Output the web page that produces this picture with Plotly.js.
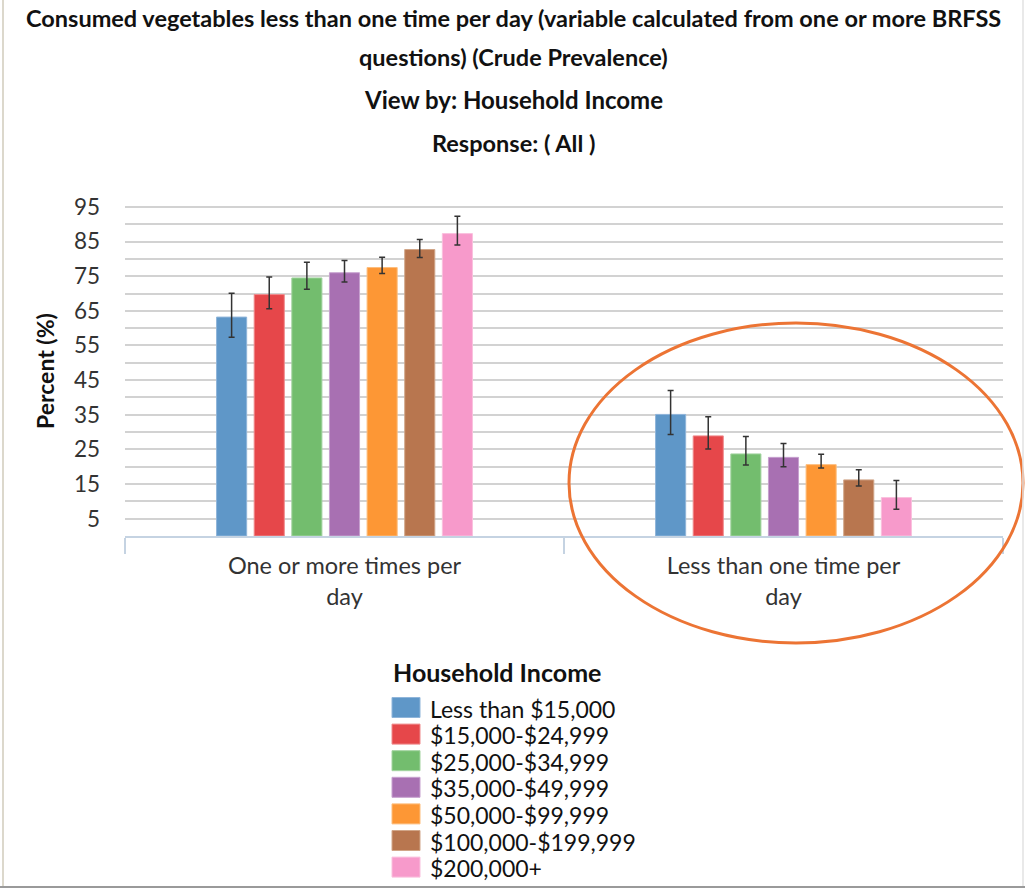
<!DOCTYPE html>
<html>
<head>
<meta charset="utf-8">
<script src="https://cdn.plot.ly/plotly-3.0.1.min.js"></script>
<style>
  html, body { margin: 0; padding: 0; background: #ffffff; }
  #chart { width: 1025px; height: 890px; }
</style>
</head>
<body>
<div id="chart"></div>
<script>
// ---------- data ----------
const categories = ["One or more times per day", "Less than one time per day"];
const categoryTickLabels = ["One or more times per<br>day", "Less than one time per<br>day"];
const incomeGroups = ["Less than $15,000", "$15,000-$24,999", "$25,000-$34,999", "$35,000-$49,999",
                      "$50,000-$99,999", "$100,000-$199,999", "$200,000+"];
// crude prevalence (%) per income group
const oneOrMoreValue  = [63.2, 69.7, 74.5, 76.0, 77.5, 82.7, 87.3];
const oneOrMoreLow    = [57.4, 65.6, 71.2, 73.3, 75.8, 80.4, 84.0];
const oneOrMoreHigh   = [70.1, 74.8, 79.0, 79.5, 80.5, 85.6, 92.3];
const lessThanOneValue = [35.1, 28.9, 23.7, 22.7, 20.6, 16.2, 11.1];
const lessThanOneLow   = [29.3, 25.1, 20.5, 20.0, 19.6, 14.4, 7.7];
const lessThanOneHigh  = [42.0, 34.4, 28.7, 26.7, 23.6, 19.1, 16.0];
const yTickValues = [5, 15, 25, 35, 45, 55, 65, 75, 85, 95];

// ---------- style ----------
const colors = ["#5f97c8", "#e6474a", "#73bd6e", "#a870b2", "#fd9735", "#b8764f", "#f79acb"];
const edgeColors = ["#8fb5da", "#ef8a8c", "#a3d4a0", "#c7a1cf", "#fdbd7d", "#d1a689", "#fac0de"];
const FONT = "Lato, 'Open Sans', sans-serif";

// plot area in pixels
const PL = 125, PR = 1003, PT = 200, PB = 536;
const px = v => (v - PL) / (PR - PL);
const py = v => (PB - v) / (PB - PT);

const traces = incomeGroups.map((name, i) => {
  const vals = [oneOrMoreValue[i], lessThanOneValue[i]];
  const lows = [oneOrMoreLow[i], lessThanOneLow[i]];
  const highs = [oneOrMoreHigh[i], lessThanOneHigh[i]];
  return {
    type: "bar",
    name: name,
    x: categories,
    y: vals,
    marker: { color: colors[i], line: { color: edgeColors[i], width: 1 } },
    error_y: {
      type: "data",
      symmetric: false,
      array: highs.map((h, k) => h - vals[k]),
      arrayminus: lows.map((l, k) => vals[k] - l),
      color: "#333333",
      thickness: 1.5,
      width: 3
    },
    showlegend: false,
    hoverinfo: "x+y+name"
  };
});

const annotations = [];
const titleLines = [
  ["Consumed vegetables less than one time per day (variable calculated from one or more BRFSS", 18, 23.5],
  ["questions) (Crude Prevalence)", 57, 23.5],
  ["View by: Household Income", 100, 24],
  ["Response: ( All )", 143, 23.5]
];
titleLines.forEach(([t, y, s]) => annotations.push({
  xref: "paper", yref: "paper", x: px(513), y: py(y), xanchor: "center", yanchor: "middle",
  text: "<b>" + t + "</b>", showarrow: false,
  font: { family: FONT, size: s, color: "#111111" }
}));
// y axis title
annotations.push({
  xref: "paper", yref: "paper", x: px(45), y: py(371), xanchor: "center", yanchor: "middle",
  text: "<b>Percent (%)</b>", textangle: -90, showarrow: false,
  font: { family: FONT, size: 23, color: "#111111" }
});
// legend title
annotations.push({
  xref: "paper", yref: "paper", x: px(391), y: py(672), xanchor: "left", yanchor: "middle",
  text: "<b>Household Income</b>", showarrow: false,
  font: { family: FONT, size: 25, color: "#111111" }
});

const shapes = [];
incomeGroups.forEach((name, i) => {
  const cy = 707.5 + 26.6 * i;
  shapes.push({
    type: "rect", xref: "paper", yref: "paper",
    x0: px(392), x1: px(420), y0: py(cy + 10), y1: py(cy - 10),
    fillcolor: colors[i], line: { color: edgeColors[i], width: 1 }
  });
  annotations.push({
    xref: "paper", yref: "paper", x: px(428), y: py(cy + 1), xanchor: "left", yanchor: "middle",
    text: name, showarrow: false,
    font: { family: FONT, size: 23, color: "#111111" }
  });
});
// highlight ellipse
shapes.push({
  type: "circle", xref: "paper", yref: "paper", layer: "above",
  x0: px(569), x1: px(1023), y0: py(643), y1: py(323),
  line: { color: "#ec7434", width: 3 }
});
// frame lines of the screenshot
shapes.push({ type: "line", xref: "paper", yref: "paper", x0: px(3), x1: px(3), y0: py(0), y1: py(887),
  line: { color: "#dcd8cc", width: 2 } });
shapes.push({ type: "line", xref: "paper", yref: "paper", x0: px(1023), x1: px(1023), y0: py(0), y1: py(887),
  line: { color: "#e2e2e2", width: 1.5 } });
shapes.push({ type: "line", xref: "paper", yref: "paper", x0: px(0), x1: px(1025), y0: py(887), y1: py(887),
  line: { color: "#9a9a9a", width: 2 } });

const layout = {
  width: 1025, height: 890,
  margin: { l: PL, r: 1025 - PR, t: PT, b: 890 - PB, pad: 0 },
  paper_bgcolor: "#ffffff", plot_bgcolor: "#ffffff",
  font: { family: FONT, color: "#333333" },
  barmode: "group", bargap: 0.4, bargroupgap: 0.2,
  showlegend: false,
  xaxis: {
    type: "category",
    tickmode: "array", tickvals: categories, ticktext: categoryTickLabels,
    tickfont: { family: FONT, size: 23.5, color: "#333333" },
    ticklabelstandoff: 8,
    showline: true, linecolor: "#c5d3e2", linewidth: 2,
    ticks: "outside", tickson: "boundaries", ticklen: 16, tickwidth: 2, tickcolor: "#c5d3e2",
    showgrid: false, fixedrange: true
  },
  yaxis: {
    range: [0, 97],
    tickmode: "array", tickvals: yTickValues,
    tickfont: { family: FONT, size: 22.5, color: "#333333" },
    ticklabelstandoff: 24,
    showgrid: true, gridcolor: "#d2d2d2", gridwidth: 2,
    minor: { tickmode: "linear", tick0: 0, dtick: 5, showgrid: true, gridcolor: "#d2d2d2", gridwidth: 2 },
    zeroline: false, showline: false, fixedrange: true
  },
  annotations: annotations,
  shapes: shapes
};

Plotly.newPlot("chart", traces, layout, { displayModeBar: false, staticPlot: true });
</script>
</body>
</html>
